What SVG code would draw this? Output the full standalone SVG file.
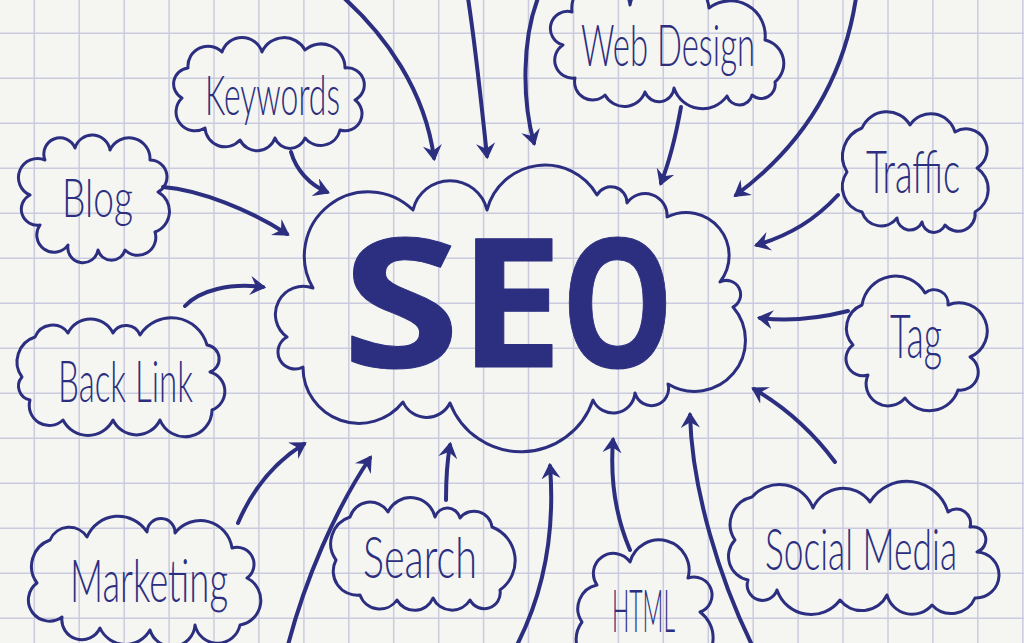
<svg xmlns="http://www.w3.org/2000/svg" width="1024" height="643" viewBox="0 0 1024 643">
<defs>
<style>
.cloud{fill:none;stroke:#2c2f80;stroke-width:3;stroke-linejoin:round}
.arrow{fill:none;stroke:#2c2f80;stroke-width:4;stroke-linecap:round;marker-end:url(#head)}
.lbl{font-family:Lato,"Open Sans","Liberation Sans",sans-serif;font-weight:300;fill:#2c2f80;text-anchor:middle}
.seo{font-family:"Open Sans","Liberation Sans",sans-serif;font-weight:700;font-size:180px;fill:#2c2f80;stroke:#2c2f80;stroke-width:1;stroke-linejoin:round}
.grid{stroke:#cbcbe0;stroke-width:1.5;fill:none}
</style>
<marker id="head" viewBox="0 0 10 12" refX="8" refY="6" markerWidth="4" markerHeight="4.8" orient="auto" markerUnits="strokeWidth">
<path d="M0,0 L10,6 L0,12 L3.5,6 Z" fill="#2c2f80"/>
</marker>
</defs>
<rect width="1024" height="643" fill="#f5f5f1"/>
<path class="grid" d="M34.3 0V643M79.2 0V643M124.2 0V643M169.1 0V643M214 0V643M258.9 0V643M303.9 0V643M348.8 0V643M393.7 0V643M438.7 0V643M483.6 0V643M528.5 0V643M573.5 0V643M618.4 0V643M663.3 0V643M708.3 0V643M753.2 0V643M798.1 0V643M843 0V643M888 0V643M932.9 0V643M977.8 0V643M1022.8 0V643M0 33.3H1024M0 78.3H1024M0 123.3H1024M0 168.3H1024M0 213.3H1024M0 258.3H1024M0 303.3H1024M0 348.3H1024M0 393.3H1024M0 438.3H1024M0 483.3H1024M0 528.3H1024M0 573.3H1024M0 618.3H1024"/>

<g id="connectors">
<path class="arrow" d="M344 -2C385 35 425 90 434 158"/>
<path class="arrow" d="M468 -2C476 50 482 110 487 156"/>
<path class="arrow" d="M538 -2C522 40 522 100 534 143"/>
<path class="arrow" d="M681 107C676 135 670 160 661 183"/>
<path class="arrow" d="M856 -2C845 70 810 140 736 195"/>
<path class="arrow" d="M838 195C815 220 790 235 757 245"/>
<path class="arrow" d="M848 311C820 318 790 322 760 318"/>
<path class="arrow" d="M835 462C815 435 790 410 754 389"/>
<path class="arrow" d="M752 645C720 580 692 490 690 415"/>
<path class="arrow" d="M630 550C615 515 610 480 613 440"/>
<path class="arrow" d="M517 645C545 590 555 530 550 466"/>
<path class="arrow" d="M446 500C446 480 447 462 450 445"/>
<path class="arrow" d="M288 645C305 580 335 510 370 458"/>
<path class="arrow" d="M238 523C250 495 270 465 304 444"/>
<path class="arrow" d="M185 306C200 290 230 283 263 287"/>
<path class="arrow" d="M163 187C200 190 250 210 287 234"/>
<path class="arrow" d="M291 152C296 170 310 185 327 192"/>
</g>

<g id="node-seo">
<path class="cloud" d="M313 288A64 64 0 0 1 413 210A38 38 0 0 1 487 210A60 60 0 0 1 597 195A16 16 0 0 1 627 203A22 22 0 0 1 667 217A43 43 0 0 1 720 282A14 14 0 0 1 733 307A51 51 0 0 1 668 384A17 17 0 0 1 635 393A22 22 0 0 1 593 400A76 76 0 0 1 450 403A26 26 0 0 1 403 402A56 56 0 0 1 303 367A16 16 0 0 1 287 337A28 28 0 0 1 313 288Z"/>
<text class="seo" y="367"><tspan x="342" textLength="118" lengthAdjust="spacingAndGlyphs">S</tspan><tspan x="459" textLength="104" lengthAdjust="spacingAndGlyphs">E</tspan><tspan x="561" textLength="113" lengthAdjust="spacingAndGlyphs">O</tspan></text>
</g>

<g id="node-keywords">
<path class="cloud" d="M182 98A16 16 0 0 1 188 68A20 20 0 0 1 222 52A21 21 0 0 1 262 52A24 24 0 0 1 305 50A24 24 0 0 1 345 68A17 17 0 0 1 355 100A17 17 0 0 1 340 130A20 20 0 0 1 305 138A16 16 0 0 1 275 138A19 19 0 0 1 240 140A20 20 0 0 1 205 128A19 19 0 0 1 182 98Z"/>
<text class="lbl" x="272.5" y="115" font-size="56" textLength="135" lengthAdjust="spacingAndGlyphs">Keywords</text>
</g>

<g id="node-blog">
<path class="cloud" d="M30 195A19 19 0 0 1 45 160A16 16 0 0 1 75 148A18 18 0 0 1 110 150A21 21 0 0 1 150 160A17 17 0 0 1 158 192A22 22 0 0 1 155 232A18 18 0 0 1 125 250A14 14 0 0 1 98 250A15 15 0 0 1 68 245A17 17 0 0 1 40 225A16 16 0 0 1 30 195Z"/>
<text class="lbl" x="97.5" y="217" font-size="54" textLength="71" lengthAdjust="spacingAndGlyphs">Blog</text>
</g>

<g id="node-webdesign">
<path class="cloud" d="M563 45A17 17 0 0 1 572 12A29 29 0 0 1 630 5A40 40 0 0 1 709 8A35 35 0 0 1 765 40A24 24 0 0 1 775 82A14 14 0 0 1 752 95A13 13 0 0 1 727 96A30 30 0 0 1 674 88A15 15 0 0 1 645 92A22 22 0 0 1 605 95A18 18 0 0 1 575 78A18 18 0 0 1 563 45Z"/>
<text class="lbl" x="668" y="66" font-size="58" textLength="174" lengthAdjust="spacingAndGlyphs">Web Design</text>
</g>

<g id="node-traffic">
<path class="cloud" d="M847 172A30 30 0 0 1 862 128A27 27 0 0 1 910 125A25 25 0 0 1 955 132A21 21 0 0 1 977 168A26 26 0 0 1 975 212A17 17 0 0 1 945 225A12 12 0 0 1 922 222A13 13 0 0 1 897 218A20 20 0 0 1 862 212A26 26 0 0 1 847 172Z"/>
<text class="lbl" x="913" y="193" font-size="60" textLength="94" lengthAdjust="spacingAndGlyphs">Traffic</text>
</g>

<g id="node-tag">
<path class="cloud" d="M853 345A25 25 0 0 1 862 305A34 34 0 0 1 925 293A14 14 0 0 1 948 305A28 28 0 0 1 970 357A18 18 0 0 1 958 390A30 30 0 0 1 905 398A22 22 0 0 1 868 375A17 17 0 0 1 853 345Z"/>
<text class="lbl" x="916" y="358" font-size="62" textLength="52" lengthAdjust="spacingAndGlyphs">Tag</text>
</g>

<g id="node-socialmedia">
<path class="cloud" d="M735 540A28 28 0 0 1 752 497A36 36 0 0 1 813 508A33 33 0 0 1 870 502A43 43 0 0 1 948 512A14 14 0 0 1 970 527A13 13 0 0 1 977 552A23 23 0 0 1 975 598A26 26 0 0 1 932 605A26 26 0 0 1 887 595A28 28 0 0 1 840 600A36 36 0 0 1 777 590A15 15 0 0 1 748 580A24 24 0 0 1 735 540Z"/>
<text class="lbl" transform="translate(861 570) scale(1 1.24)" x="0" y="0" font-size="46" textLength="192" lengthAdjust="spacingAndGlyphs">Social Media</text>
</g>

<g id="node-html">
<path class="cloud" d="M590 665A30 30 0 0 1 582 622A24 24 0 0 1 597 585A20 20 0 0 1 630 562A30 30 0 0 1 688 578A18 18 0 0 1 700 612A32 32 0 0 1 698 665Z"/>
<text class="lbl" x="643.5" y="632" font-size="60" textLength="63" lengthAdjust="spacingAndGlyphs">HTML</text>
</g>

<g id="node-search">
<path class="cloud" d="M336 560A28 28 0 0 1 350 517A21 21 0 0 1 388 512A25 25 0 0 1 435 517A13 13 0 0 1 460 518A18 18 0 0 1 492 527A36 36 0 0 1 500 590A16 16 0 0 1 470 600A21 21 0 0 1 433 598A20 20 0 0 1 397 600A21 21 0 0 1 360 595A24 24 0 0 1 336 560Z"/>
<text class="lbl" x="420" y="578" font-size="58" textLength="114" lengthAdjust="spacingAndGlyphs">Search</text>
</g>

<g id="node-marketing">
<path class="cloud" d="M37 583A28 28 0 0 1 50 540A21 21 0 0 1 87 537A34 34 0 0 1 147 532A14 14 0 0 1 175 533A32 32 0 0 1 232 548A17 17 0 0 1 247 578A25 25 0 0 1 240 625A23 23 0 0 1 195 625A23 23 0 0 1 150 630A28 28 0 0 1 100 628A20 20 0 0 1 62 617A21 21 0 0 1 37 583Z"/>
<text class="lbl" x="149" y="602" font-size="60" textLength="158" lengthAdjust="spacingAndGlyphs">Marketing</text>
</g>

<g id="node-backlink">
<path class="cloud" d="M22 377A26 26 0 0 1 35 337A19 19 0 0 1 68 333A25 25 0 0 1 113 333A15 15 0 0 1 140 335A37 37 0 0 1 207 345A14 14 0 0 1 210 372A20 20 0 0 1 212 410A27 27 0 0 1 160 420A26 26 0 0 1 113 420A28 28 0 0 1 63 420A20 20 0 0 1 30 400A14 14 0 0 1 22 377Z"/>
<text class="lbl" x="125.5" y="402" font-size="58" textLength="135" lengthAdjust="spacingAndGlyphs">Back Link</text>
</g>
</svg>
